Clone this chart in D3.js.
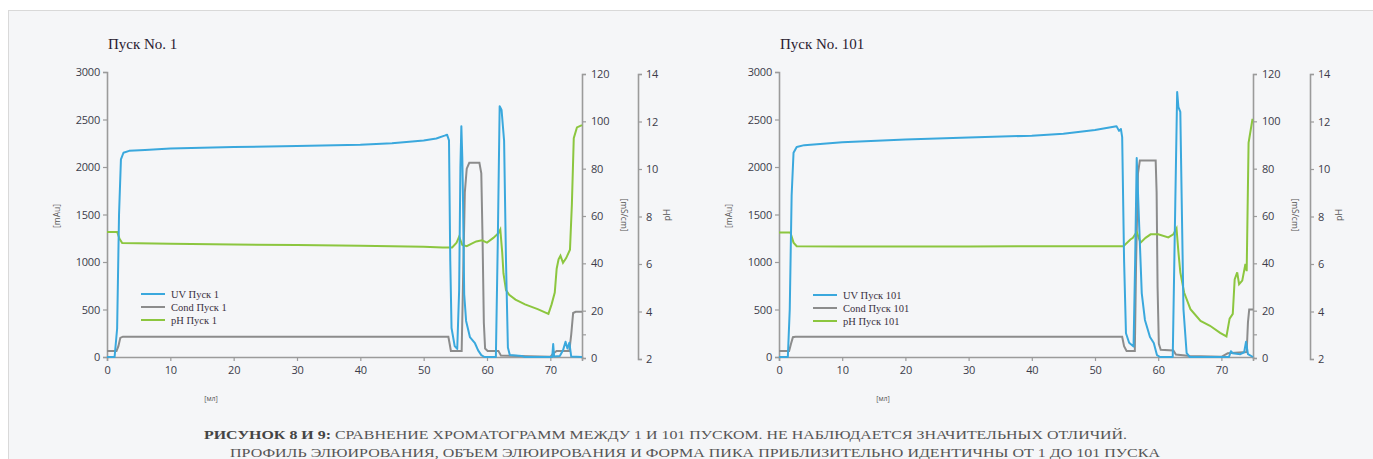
<!DOCTYPE html>
<html>
<head>
<meta charset="utf-8">
<script src="https://cdn.jsdelivr.net/npm/d3@7"></script>
<style>
  body { margin: 0; background: #fff; }
  text { font-family: "Open Sans", "Noto Sans", sans-serif; }
  .serif { font-family: "Liberation Serif", "DejaVu Serif", serif; }
</style>
</head>
<body>
<script>
// chart values: [time (ml), value]
var timeTicks = [0, 10, 20, 30, 40, 50, 60, 70];
var uvTicks = [0, 500, 1000, 1500, 2000, 2500, 3000];
var condTicks = [0, 20, 40, 60, 80, 100, 120];
var phTicks = [2, 4, 6, 8, 10, 12, 14];

var uv1 = [[0,0],[1.2,0],[1.6,300],[1.9,1500],[2.2,2080],[2.6,2150],[3.5,2170],[6,2180],[10,2195],[20,2210],[30,2220],[40,2235],[45,2250],[50,2280],[52,2300],[53.3,2330],[53.7,2340],[54.0,2280],[54.2,1010],[54.4,305],[54.9,115],[55.3,85],[55.6,700],[55.8,2000],[55.95,2430],[56.1,2100],[56.2,1715],[56.4,660],[56.7,380],[57.3,210],[58.1,145],[58.6,70],[59.1,20],[59.6,0],[61.4,0],[61.7,1200],[62.0,2640],[62.3,2600],[62.7,2275],[63.0,1010],[63.3,100],[63.6,20],[65.5,10],[66,0],[70.3,0],[70.45,137],[70.6,5],[71.5,10],[72.0,70],[72.4,160],[72.7,90],[73.0,150],[73.3,5],[75,0]];
var cond1 = [[0,3],[1.5,3],[1.8,5],[2.1,8.5],[2.5,9],[53.9,9],[54.1,6],[54.3,3],[56.0,3],[56.2,30],[56.5,70],[56.8,80],[57.2,82.5],[58.8,82.5],[59.1,78],[59.3,50],[59.5,15],[59.7,4],[60.1,3],[61.8,3],[62.2,1],[70,0.5],[70.5,2],[71,3],[73,3],[73.3,10],[73.6,19],[74,19.5],[75,19.5]];
var ph1 = [[0,7.35],[1.6,7.35],[2.0,7.05],[2.4,6.88],[10,6.85],[20,6.82],[30,6.8],[40,6.77],[50,6.73],[53,6.7],[54.5,6.7],[55.2,6.9],[55.6,7.15],[56.1,6.8],[56.8,6.75],[57.5,6.85],[58.3,6.95],[59.2,7.0],[60,6.9],[61,7.1],[61.8,7.3],[62.1,7.45],[62.4,6.5],[62.6,5.6],[63,4.9],[63.5,4.7],[64.5,4.5],[66,4.3],[68,4.1],[69.7,3.9],[70.2,4.3],[70.7,4.8],[71.0,5.8],[71.3,6.2],[71.6,6.35],[72,6.05],[72.5,6.25],[73.1,6.6],[73.4,8.5],[73.7,11.3],[74.2,11.75],[75,11.85]];

var uv101 = [[0,0],[1.4,0],[1.7,500],[2.0,1700],[2.3,2150],[2.8,2210],[4,2230],[10,2260],[20,2290],[30,2310],[40,2330],[45,2350],[50,2390],[53.4,2430],[53.8,2380],[54.1,2400],[54.3,2315],[54.6,1020],[54.9,250],[55.4,150],[56.1,110],[56.35,1000],[56.6,2095],[57.0,1370],[57.4,670],[57.9,390],[58.7,210],[59.3,147],[59.8,20],[60.3,0],[62.3,0],[62.7,1600],[63.0,2790],[63.2,2630],[63.5,2580],[63.7,1725],[64.0,500],[64.5,40],[65,0],[71.2,0],[71.5,60],[71.8,40],[73,30],[73.6,50],[73.9,160],[74.2,30],[75,0]];
var cond101 = [[0,3],[1.6,3],[1.9,6],[2.2,8.8],[2.6,9],[54.3,9],[54.6,5],[55,3],[56.3,3],[56.5,40],[56.8,78],[57.1,83.5],[59.6,83.5],[59.75,70],[59.9,30],[60.1,6],[60.4,3.5],[62.4,3.2],[62.8,1.5],[65,0.8],[70,0.5],[71,2],[74,2.5],[74.2,15],[74.4,20.5],[75,20.5]];
var ph101 = [[0,7.33],[1.8,7.33],[2.3,6.9],[2.8,6.75],[10,6.74],[30,6.74],[50,6.75],[54.5,6.75],[55.6,7.03],[56.0,7.1],[56.6,7.35],[57.2,6.9],[58,7.1],[58.8,7.25],[60,7.25],[61.6,7.12],[62.4,7.25],[62.9,7.5],[63.2,6.5],[63.5,5.65],[64.1,4.8],[65.1,4.1],[66.7,3.6],[68.2,3.4],[69.8,3.1],[70.8,2.95],[71.3,3.7],[71.8,3.9],[72.1,5.35],[72.5,5.65],[72.8,5.15],[73.3,5.3],[73.8,6.0],[74.0,5.7],[74.3,11.1],[74.9,12.07],[75,12.07]];

var captionBold = "РИСУНОК 8 И 9:";
var captionLine1 = " СРАВНЕНИЕ ХРОМАТОГРАММ МЕЖДУ 1 И 101 ПУСКОМ. НЕ НАБЛЮДАЕТСЯ ЗНАЧИТЕЛЬНЫХ ОТЛИЧИЙ.";
var captionLine2 = "ПРОФИЛЬ ЭЛЮИРОВАНИЯ, ОБЪЕМ ЭЛЮИРОВАНИЯ И ФОРМА ПИКА ПРИБЛИЗИТЕЛЬНО ИДЕНТИЧНЫ ОТ 1 ДО 101 ПУСКА";

var W = 1373, H = 459;
var axisColor = "#9b9b9b", labelColor = "#3c3c4a";
var uvColor = "#3aa8dd", condColor = "#8c8c8c", phColor = "#8cc63f";

var svg = d3.select("body").append("svg").attr("width", W).attr("height", H);

// light panel
svg.append("rect")
  .attr("x", 8.5).attr("y", 10.5).attr("width", W + 20).attr("height", H + 20)
  .attr("fill", "#f5f6f8").attr("stroke", "#d9d9d9");

function chart(cfg) {
  var g = svg.append("g");
  var x = d3.scaleLinear().domain([0, 75]).range([cfg.x0, cfg.x1]);
  var yUv = d3.scaleLinear().domain([0, 3000]).range([357, 72]);
  var yCond = d3.scaleLinear().domain([0, 120]).range([358, 74]);
  var yPh = d3.scaleLinear().domain([2, 14]).range([359, 74]);
  var fmt = d3.format("d");

  // left axis
  var ax = g.append("g").attr("transform", "translate(" + cfg.x0 + ",0)")
    .call(d3.axisLeft(yUv).tickValues(uvTicks).tickFormat(fmt).tickSize(4).tickPadding(3));
  // bottom axis
  var bx = g.append("g").attr("transform", "translate(0,357)")
    .call(d3.axisBottom(x).tickValues(timeTicks).tickFormat(fmt).tickSize(4).tickPadding(5));
  // conductivity axis
  var cx = g.append("g").attr("transform", "translate(" + cfg.x1 + ",0)")
    .call(d3.axisRight(yCond).tickValues(condTicks.concat([10])).tickSize(4).tickPadding(5)
      .tickFormat(function(d) { return d === 10 ? "" : fmt(d); }));
  // pH axis
  var px = g.append("g").attr("transform", "translate(" + cfg.xPh + ",0)")
    .call(d3.axisRight(yPh).tickValues(phTicks).tickFormat(fmt).tickSize(4).tickPadding(4));

  [ax, bx, cx, px].forEach(function(a) {
    a.select(".domain").attr("stroke", axisColor).attr("stroke-width", 1.6);
    a.selectAll(".tick line").attr("stroke", axisColor).attr("stroke-width", 1.2);
    a.selectAll(".tick text").attr("fill", labelColor).attr("font-size", 11)
      .attr("font-family", "'Open Sans', sans-serif").style("letter-spacing", "-0.2px");
  });

  var line = function(ys) {
    return d3.line().x(function(d) { return x(d[0]); }).y(function(d) { return ys(d[1]); });
  };
  g.append("path").datum(cfg.cond).attr("d", line(yCond))
    .attr("fill", "none").attr("stroke", condColor).attr("stroke-width", 2);
  g.append("path").datum(cfg.ph).attr("d", line(yPh))
    .attr("fill", "none").attr("stroke", phColor).attr("stroke-width", 2);
  g.append("path").datum(cfg.uv).attr("d", line(yUv))
    .attr("fill", "none").attr("stroke", uvColor).attr("stroke-width", 2).attr("stroke-linejoin", "round");

  // title
  g.append("text").attr("class", "serif").attr("x", cfg.x0 + 1).attr("y", 49)
    .attr("font-size", 15).attr("fill", "#2a2030").text(cfg.title);

  // axis titles
  function vlabel(xp, yp, rot, size, txt) {
    g.append("text").attr("transform", "translate(" + xp + "," + yp + ") rotate(" + rot + ")")
      .attr("text-anchor", "middle").attr("font-size", size).attr("fill", "#555")
      .text(txt);
  }
  vlabel(cfg.x0 - 47, 216, -90, 8.5, "[mAu]");
  vlabel(cfg.x1 + 39, 215, 90, 8.5, "[mS/cm]");
  vlabel(cfg.xPh + 32, 215, -90, 9, "pH");
  g.append("text").attr("x", cfg.x0 + 104).attr("y", 401).attr("text-anchor", "middle")
    .attr("font-size", 7).attr("fill", "#555").text("[мл]");

  // legend
  var leg = [[cfg.legUv, uvColor], [cfg.legCond, condColor], [cfg.legPh, phColor]];
  leg.forEach(function(l, i) {
    var yy = cfg.legY + i * 13;
    g.append("line").attr("x1", cfg.legX).attr("x2", cfg.legX + 24)
      .attr("y1", yy).attr("y2", yy).attr("stroke", l[1]).attr("stroke-width", 2);
    g.append("text").attr("class", "serif").attr("x", cfg.legX + 30).attr("y", yy + 3.5)
      .attr("font-size", 10.5).attr("fill", "#3a3040").text(l[0]);
  });
}

chart({ x0: 107, x1: 582, xPh: 638, title: "Пуск No. 1", uv: uv1, cond: cond1, ph: ph1,
  legX: 141, legY: 294, legUv: "UV Пуск 1", legCond: "Cond Пуск 1", legPh: "pH Пуск 1" });
chart({ x0: 779, x1: 1253, xPh: 1310, title: "Пуск No. 101", uv: uv101, cond: cond101, ph: ph101,
  legX: 813, legY: 295, legUv: "UV Пуск 101", legCond: "Cond Пуск 101", legPh: "pH Пуск 101" });

// caption
var c1 = svg.append("text").attr("class", "serif").attr("x", 204).attr("y", 439)
  .attr("font-size", 12.5).attr("fill", "#555")
  .attr("textLength", 923).attr("lengthAdjust", "spacingAndGlyphs");
c1.append("tspan").attr("font-weight", "bold").attr("fill", "#444").text(captionBold);
c1.append("tspan").text(captionLine1);
svg.append("text").attr("class", "serif").attr("x", 230).attr("y", 457)
  .attr("font-size", 12.5).attr("fill", "#555")
  .attr("textLength", 930).attr("lengthAdjust", "spacingAndGlyphs")
  .text(captionLine2);
</script>
</body>
</html>
